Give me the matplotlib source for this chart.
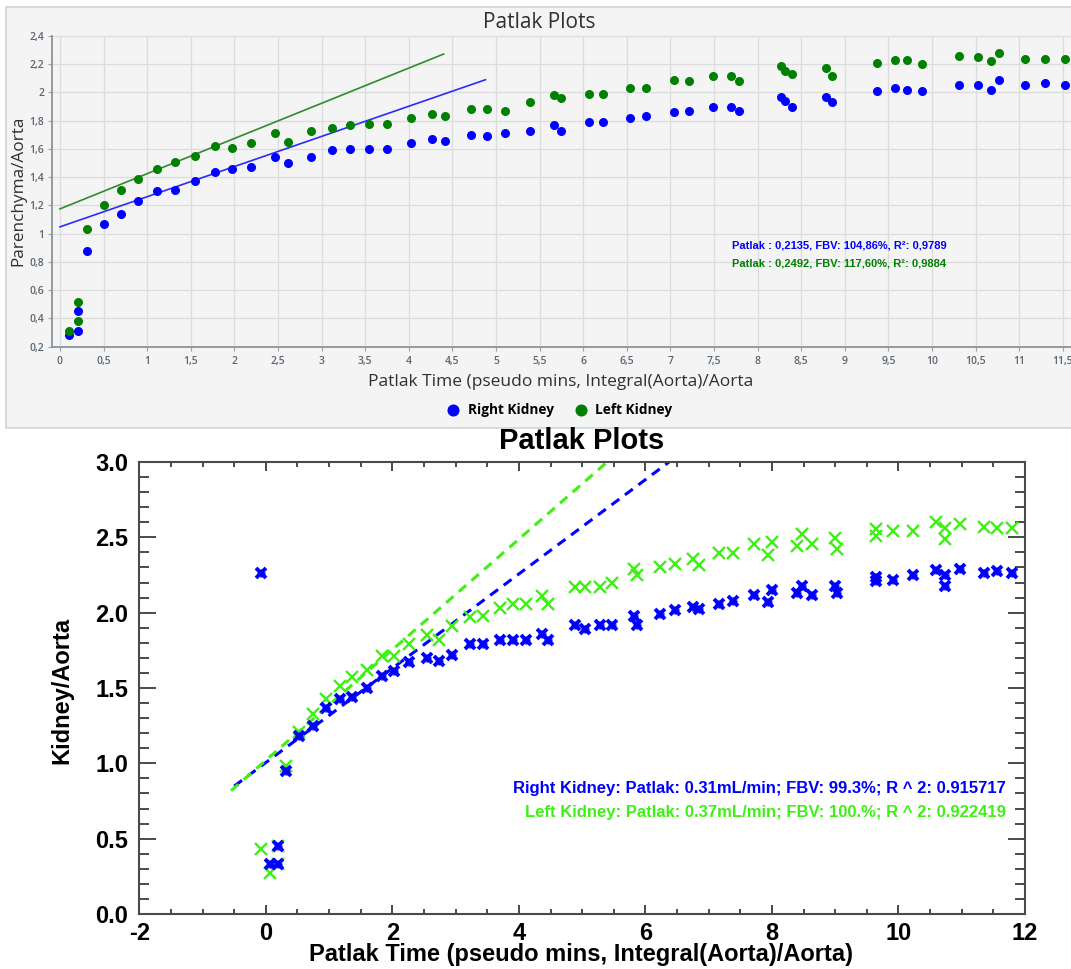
import matplotlib
matplotlib.use("Agg")
import matplotlib.pyplot as plt
from matplotlib.patches import Rectangle
from matplotlib.ticker import MultipleLocator, FuncFormatter
import numpy as np

W, H = 1071, 969

# upper chart: viewer screenshot
top_x = [0.10, 0.21, 0.21, 0.31, 0.51, 0.70, 0.90, 1.11, 1.32, 1.55,
         1.78, 1.97, 2.19, 2.47, 2.62, 2.88, 3.12, 3.33, 3.54, 3.75,
         4.03, 4.27, 4.42, 4.71, 4.90, 5.10, 5.39, 5.67, 5.75, 6.07,
         6.23, 6.54, 6.72, 7.04, 7.21, 7.49, 7.70, 7.79, 8.27, 8.31,
         8.39, 8.78, 8.85, 9.37, 9.57, 9.71, 9.88, 10.31, 10.53, 10.68,
         10.77, 11.07, 11.30, 11.52]
top_right = [0.28, 0.31, 0.45, 0.88, 1.07, 1.14, 1.23, 1.30, 1.31, 1.37,
             1.44, 1.46, 1.47, 1.54, 1.50, 1.54, 1.59, 1.60, 1.60, 1.60,
             1.64, 1.67, 1.66, 1.70, 1.69, 1.71, 1.73, 1.77, 1.73, 1.79,
             1.79, 1.82, 1.83, 1.86, 1.87, 1.90, 1.90, 1.87, 1.97, 1.94,
             1.90, 1.97, 1.93, 2.01, 2.03, 2.02, 2.01, 2.05, 2.05, 2.02,
             2.09, 2.05, 2.07, 2.05]
top_left = [0.31, 0.38, 0.52, 1.03, 1.20, 1.31, 1.39, 1.46, 1.51, 1.55,
            1.62, 1.61, 1.64, 1.71, 1.65, 1.73, 1.75, 1.77, 1.78, 1.78,
            1.82, 1.85, 1.83, 1.88, 1.88, 1.87, 1.93, 1.98, 1.96, 1.99,
            1.99, 2.03, 2.03, 2.09, 2.08, 2.12, 2.12, 2.08, 2.19, 2.15,
            2.13, 2.17, 2.12, 2.21, 2.23, 2.23, 2.20, 2.26, 2.25, 2.22,
            2.28, 2.24, 2.24, 2.24]
# slope, intercept, last x of the fit line
top_fit_right = (0.2135, 1.0486, 4.88)
top_fit_left = (0.2492, 1.1760, 4.40)
top_note_right = "Patlak : 0,2135, FBV: 104,86%, R²: 0,9789"
top_note_left = "Patlak : 0,2492, FBV: 117,60%, R²: 0,9884"

# lower chart: IDL style plot
bot_x = [-0.07, 0.07, 0.19, 0.19, 0.32, 0.53, 0.74, 0.95, 1.17, 1.36,
         1.60, 1.83, 2.03, 2.27, 2.54, 2.73, 2.95, 3.23, 3.43, 3.70,
         3.91, 4.12, 4.37, 4.46, 4.88, 5.05, 5.29, 5.47, 5.82, 5.87,
         6.23, 6.47, 6.75, 6.84, 7.17, 7.38, 7.72, 7.93, 8.00, 8.40,
         8.48, 8.63, 8.99, 9.03, 9.65, 9.65, 9.92, 10.23, 10.60, 10.73,
         10.73, 10.97, 11.35, 11.55, 11.80]
bot_right = [2.26, 0.33, 0.45, 0.33, 0.95, 1.18, 1.25, 1.37, 1.43, 1.44,
             1.50, 1.58, 1.61, 1.67, 1.70, 1.68, 1.72, 1.79, 1.79, 1.82,
             1.82, 1.82, 1.86, 1.82, 1.915, 1.89, 1.92, 1.915, 1.98, 1.92,
             1.99, 2.02, 2.04, 2.025, 2.06, 2.08, 2.12, 2.07, 2.15, 2.13,
             2.18, 2.12, 2.18, 2.13, 2.24, 2.21, 2.22, 2.25, 2.28, 2.25,
             2.18, 2.29, 2.26, 2.275, 2.26]
bot_left = [0.43, 0.27, 0.45, 0.33, 0.985, 1.21, 1.33, 1.43, 1.51, 1.57,
            1.62, 1.71, 1.71, 1.79, 1.85, 1.82, 1.91, 1.97, 1.98, 2.03,
            2.06, 2.06, 2.11, 2.06, 2.17, 2.17, 2.17, 2.20, 2.29, 2.25,
            2.30, 2.32, 2.355, 2.315, 2.395, 2.395, 2.455, 2.386, 2.468, 2.44,
            2.52, 2.455, 2.495, 2.425, 2.555, 2.51, 2.54, 2.54, 2.60, 2.56,
            2.49, 2.59, 2.57, 2.56, 2.56]
# slope, intercept, first x of the fit line
bot_fit_right = (0.313, 1.005, -0.50)
bot_fit_left = (0.367, 1.020, -0.55)
bot_note_right = "Right Kidney: Patlak: 0.31mL/min; FBV: 99.3%; R ^ 2: 0.915717"
bot_note_left = "Left Kidney: Patlak: 0.37mL/min; FBV: 100.%; R ^ 2: 0.922419"


def fx(px):
    return px / W


def fy(py):
    return 1 - py / H


fig = plt.figure(figsize=(W / 100, H / 100), dpi=100)
fig.patch.set_facecolor("white")

# ---- upper panel ----
UI = "Open Sans"
bg = "#f4f4f4"
fig.patches.append(Rectangle((fx(6), fy(428)), 1.0, (428 - 7) / H, transform=fig.transFigure,
                             facecolor=bg, edgecolor="#d0d4d8", lw=1.2, zorder=-10))

ax1 = fig.add_axes([fx(51.7), fy(346.7), 1 - fx(51.7), (346.7 - 36) / H])
ax1.set_zorder(1)
ax1.set_facecolor(bg)
ax1.set_xlim(-0.095, 11.594)
ax1.set_ylim(0.2, 2.4)
ax1.xaxis.set_major_locator(MultipleLocator(0.5))
ax1.yaxis.set_major_locator(MultipleLocator(0.2))
comma = FuncFormatter(lambda v, p: ("%g" % round(v, 2)).replace(".", ","))
ax1.xaxis.set_major_formatter(comma)
ax1.yaxis.set_major_formatter(comma)
ax1.grid(True, color="#dcdcdc", lw=0.9)
ax1.set_axisbelow(True)
for s in ("top", "right"):
    ax1.spines[s].set_visible(False)
for s in ("left", "bottom"):
    ax1.spines[s].set_color("#8a949c")
    ax1.spines[s].set_linewidth(1.3)
ax1.tick_params(direction="out", length=3, color="#9aa2a8", labelsize=7.5,
                labelcolor="#5c6670", pad=2.5)
ax1.tick_params(axis="x", pad=3.5)
for lbl in ax1.get_xticklabels() + ax1.get_yticklabels():
    lbl.set_family(UI)
    lbl.set_fontweight("semibold")

c_blue, c_green = "#0000ff", "#008000"
sc_r = ax1.scatter(top_x, top_right, s=30, color=c_blue, zorder=3, label="Right Kidney")
sc_l = ax1.scatter(top_x, top_left, s=30, color=c_green, zorder=3, label="Left Kidney")
for (k, b, xe), c in ((top_fit_right, "#2b2bff"), (top_fit_left, "#2e8b2e")):
    xs = np.array([0.0, xe])
    ax1.plot(xs, b + k * xs, color=c, lw=1.2, zorder=2)

ax1.text(0.667, 0.327, top_note_right, transform=ax1.transAxes, color=c_blue,
         fontsize=8, fontweight="bold", family="Liberation Sans", va="center")
ax1.text(0.667, 0.269, top_note_left, transform=ax1.transAxes, color=c_green,
         fontsize=8, fontweight="bold", family="Liberation Sans", va="center")

fig.text(fx(539), fy(22), "Patlak Plots", ha="center", va="center", fontsize=15,
         family=UI, color="#303030")
fig.text(fx(18), fy(191), "Parenchyma/Aorta", ha="center", va="center", rotation=90,
         fontsize=12.3, family=UI, color="#303030")
fig.text(fx(561), fy(382), "Patlak Time (pseudo mins, Integral(Aorta)/Aorta", ha="center",
         va="center", fontsize=12.5, family=UI, color="#303030")
ax1.legend(handles=[sc_r, sc_l], loc="center", bbox_to_anchor=(fx(556), fy(410)),
           bbox_transform=fig.transFigure, ncol=2, frameon=False, markerscale=1.4,
           handletextpad=0.05, columnspacing=1.0,
           prop=dict(family=UI, weight="bold", size=9.8))

# ---- lower panel ----
HV = "Liberation Sans"
ax2 = fig.add_axes([fx(139.3), fy(914), (1025 - 139.3) / W, (914 - 462) / H])
ax2.set_xlim(-2, 12)
ax2.set_ylim(0, 3.0)
ax2.set_xticks(np.arange(-2, 13, 2))
ax2.set_xticklabels(["%d" % v for v in np.arange(-2, 13, 2)], fontweight="bold",
                    family=HV, fontsize=17)
ax2.set_yticks(np.arange(0, 3.01, 0.5))
ax2.set_yticklabels(["%.1f" % v for v in np.arange(0, 3.01, 0.5)], fontweight="bold",
                    family=HV, fontsize=17)
ax2.xaxis.set_minor_locator(MultipleLocator(0.5))
ax2.yaxis.set_minor_locator(MultipleLocator(0.1))
for s in ax2.spines.values():
    s.set_color("#4a4a4a")
    s.set_linewidth(1.5)
ax2.tick_params(which="both", direction="in", top=True, right=True, width=1.4, color="#4a4a4a")
ax2.tick_params(axis="x", which="major", length=6.5, pad=6)
ax2.tick_params(axis="x", which="minor", length=3.5)
ax2.tick_params(axis="y", which="major", length=12.5, pad=8)
ax2.tick_params(axis="y", which="minor", length=7)

g2, b2 = "#3ef014", "#0000ff"
for (k, b, xs0), c in ((bot_fit_right, b2), (bot_fit_left, g2)):
    xs = np.array([xs0, 8.0])
    ax2.plot(xs, b + k * xs, color=c, lw=2.2, ls=(0, (3.2, 2.3)), zorder=2)
ax2.plot(bot_x, bot_left, ls="none", marker="x", ms=8, mew=1.7, color=g2, zorder=3)
ax2.plot(bot_x, bot_right, ls="none", marker="x", ms=7.0, mew=2.8, color=b2, zorder=3)
ax2.plot(bot_x, bot_right, ls="none", marker="+", ms=6.0, mew=1.8, color=b2, zorder=3)

ax2.text(0.9786, (914 - 788) / 452, bot_note_right, transform=ax2.transAxes, ha="right",
         va="center", color=b2, fontsize=12, fontweight="bold", family=HV)
ax2.text(0.9786, (914 - 813) / 452, bot_note_left, transform=ax2.transAxes, ha="right",
         va="center", color=g2, fontsize=12, fontweight="bold", family=HV)

fig.text(fx(582), fy(441), "Patlak Plots", ha="center", va="center", fontsize=21,
         fontweight="bold", family=HV)
fig.text(fx(581), fy(955), "Patlak Time (pseudo mins, Integral(Aorta)/Aorta)", ha="center",
         va="center", fontsize=17, fontweight="bold", family=HV)
fig.text(fx(62), fy(690), "Kidney/Aorta", ha="center", va="center", rotation=90,
         fontsize=17, fontweight="bold", family=HV)

fig.savefig("out.png", dpi=100)
